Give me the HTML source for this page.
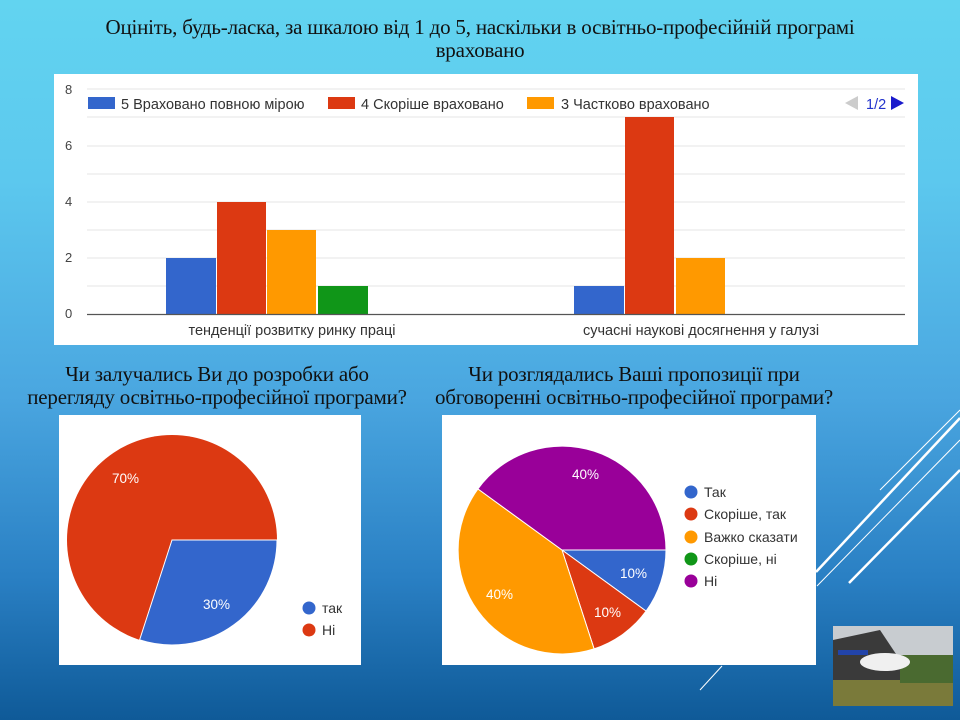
<!DOCTYPE html>
<html><head><meta charset="utf-8"><style>
body{margin:0;width:960px;height:720px;overflow:hidden;font-family:"Liberation Sans",sans-serif;
background:linear-gradient(180deg,#62d4f0 0%,#5cc8ee 25%,#4aa6e0 55%,#2a80c4 80%,#0f5a98 100%);position:relative}
.t{position:absolute;font-family:"Liberation Serif",serif;color:#111;text-align:center;line-height:23px;white-space:nowrap}
</style></head><body>
<div class="t" style="left:0;top:16px;width:960px;font-size:21px;letter-spacing:-0.2px">Оцініть, будь-ласка, за шкалою від 1 до 5, наскільки в освітньо-професійній програмі<br>враховано</div>
<div class="t" style="left:0;top:363px;width:434px;font-size:21px;letter-spacing:-0.2px">Чи залучались Ви до розробки або<br>перегляду освітньо-професійної програми?</div>
<div class="t" style="left:424px;top:363px;width:420px;font-size:21px;letter-spacing:-0.2px">Чи розглядались Ваші пропозиції при<br>обговоренні освітньо-професійної програми?</div>

<svg style="position:absolute;left:0;top:0" width="960" height="720">
<g stroke="#fff" fill="none">
<line x1="816" y1="572" x2="960" y2="418" stroke-width="2.5"/>
<line x1="817" y1="586" x2="960" y2="440" stroke-width="1"/>
<line x1="880" y1="490" x2="960" y2="410" stroke-width="1"/>
<line x1="849" y1="583" x2="960" y2="470" stroke-width="2.5"/>
<line x1="700" y1="690" x2="722" y2="666" stroke-width="1"/>
</g>
<rect x="54" y="74" width="864" height="271" fill="#fff"/>
<g stroke="#e4e4e4" stroke-width="1">
<line x1="87" y1="89" x2="905" y2="89"/><line x1="87" y1="117" x2="905" y2="117"/>
<line x1="87" y1="146" x2="905" y2="146"/><line x1="87" y1="174" x2="905" y2="174"/>
<line x1="87" y1="202" x2="905" y2="202"/><line x1="87" y1="230" x2="905" y2="230"/>
<line x1="87" y1="258" x2="905" y2="258"/><line x1="87" y1="286" x2="905" y2="286"/>
</g>
<rect x="88" y="94" width="640" height="22" fill="#fff"/>
<g font-size="13" fill="#444">
<text x="65" y="94">8</text><text x="65" y="150">6</text><text x="65" y="206">4</text><text x="65" y="262">2</text><text x="65" y="318">0</text>
</g>
<rect x="166" y="258" width="50" height="56" fill="#3366cc"/>
<rect x="217" y="202" width="49" height="112" fill="#dc3912"/>
<rect x="267" y="230" width="49" height="84" fill="#ff9900"/>
<rect x="318" y="286" width="50" height="28" fill="#109618"/>
<rect x="574" y="286" width="50" height="28" fill="#3366cc"/>
<rect x="625" y="117" width="49" height="197" fill="#dc3912"/>
<rect x="676" y="258" width="49" height="56" fill="#ff9900"/>
<line x1="87" y1="314.5" x2="905" y2="314.5" stroke="#555" stroke-width="1.2"/>
<g font-size="14.5" fill="#333">
<rect x="88" y="97" width="27" height="12" fill="#3366cc"/><text x="121" y="109">5 Враховано повною мірою</text>
<rect x="328" y="97" width="27" height="12" fill="#dc3912"/><text x="361" y="109">4 Скоріше враховано</text>
<rect x="527" y="97" width="27" height="12" fill="#ff9900"/><text x="561" y="109">3 Частково враховано</text>
<polygon points="858,96 858,110 845,103" fill="#ccc"/>
<text x="866" y="109" fill="#2233cc">1/2</text>
<polygon points="891,96 891,110 904,103" fill="#1a1acc"/>
<text x="292" y="335" text-anchor="middle">тенденції розвитку ринку праці</text>
<text x="701" y="335" text-anchor="middle">сучасні наукові досягнення у галузі</text>
</g>
<rect x="59" y="415" width="302" height="250" fill="#fff"/>
<circle cx="172" cy="540" r="105" fill="#dc3912"/>
<path d="M172 540 L277 540 A105 105 0 0 1 139.6 639.9 Z" fill="#3366cc" stroke="#fff" stroke-width="1"/>
<g font-size="13.5" fill="#fff"><text x="112" y="483">70%</text><text x="203" y="609">30%</text></g>
<circle cx="309" cy="608" r="6.5" fill="#3366cc"/><circle cx="309" cy="630" r="6.5" fill="#dc3912"/>
<g font-size="14" fill="#333"><text x="322" y="613">так</text><text x="322" y="635">Ні</text></g>
<rect x="442" y="415" width="374" height="250" fill="#fff"/>
<g stroke="#fff" stroke-width="1">
<path d="M562 550 L666 550 A104 104 0 0 1 646.1 611.1 Z" fill="#3366cc"/>
<path d="M562 550 L646.1 611.1 A104 104 0 0 1 594.1 648.9 Z" fill="#dc3912"/>
<path d="M562 550 L594.1 648.9 A104 104 0 0 1 477.9 488.9 Z" fill="#ff9900"/>
<path d="M562 550 L477.9 488.9 A104 104 0 0 1 666 550 Z" fill="#990099"/>
</g>
<g font-size="13.5" fill="#fff"><text x="572" y="479">40%</text><text x="620" y="578">10%</text><text x="594" y="617">10%</text><text x="486" y="599">40%</text></g>
<circle cx="691" cy="492" r="6.5" fill="#3366cc"/><circle cx="691" cy="514" r="6.5" fill="#dc3912"/>
<circle cx="691" cy="537" r="6.5" fill="#ff9900"/><circle cx="691" cy="559" r="6.5" fill="#109618"/>
<circle cx="691" cy="581" r="6.5" fill="#990099"/>
<g font-size="14" fill="#333"><text x="704" y="497">Так</text><text x="704" y="519">Скоріше, так</text>
<text x="704" y="542">Важко сказати</text><text x="704" y="564">Скоріше, ні</text><text x="704" y="586">Ні</text></g>
<rect x="833" y="626" width="120" height="80" fill="#c8ccd0"/>
<polygon points="833,640 880,630 900,660 900,706 833,706" fill="#3a3a3a"/>
<rect x="833" y="680" width="120" height="26" fill="#7a7a3a"/>
<rect x="900" y="655" width="53" height="28" fill="#4a6a30"/>
<ellipse cx="885" cy="662" rx="25" ry="9" fill="#f0f0f0"/>
<rect x="838" y="650" width="30" height="5" fill="#2244aa"/>
</svg>
</body></html>
